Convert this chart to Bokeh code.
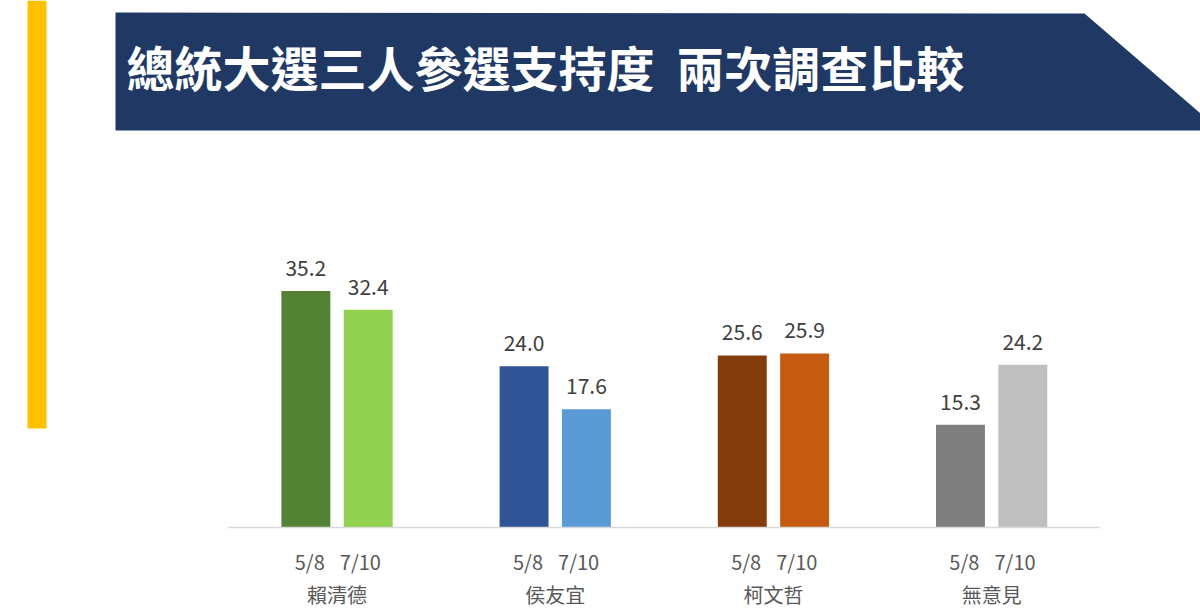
from bokeh.plotting import figure
from bokeh.models import (ColumnDataSource, PolyAnnotation, Label, Range1d,
                          LinearAxis, FixedTicker)
from bokeh.core.properties import value
from bokeh.embed import file_html
from bokeh.resources import INLINE

# ---- data ----
candidates = ["賴清德", "侯友宜", "柯文哲", "無意見"]
dates = ["5/8", "7/10"]
may_values = [35.2, 24.0, 25.6, 15.3]
jul_values = [32.4, 17.6, 25.9, 24.2]
may_colors = ["#548235", "#2F5597", "#843C0C", "#7F7F7F"]
jul_colors = ["#92D050", "#5B9BD5", "#C55A11", "#BFBFBF"]
title_text = "總統大選三人參選支持度\u00a0\u00a0兩次調查比較"

W, H = 1200, 611
FONT = "Noto Sans CJK TC"
BOTTOM = 84

GROUP_STEP = 7      # x units between candidate groups
DODGE = 1           # x units between a bar and its group centre
LABEL_OFFS = (-0.875, 0.75)   # date label positions relative to group centre

xs, vals, cols, tick_pos, tick_lab = [], [], [], [], {}
for i, (m, j, cm, cj) in enumerate(zip(may_values, jul_values, may_colors, jul_colors)):
    c = GROUP_STEP * i
    for d, v, col, off, loff in ((dates[0], m, cm, -DODGE, LABEL_OFFS[0]),
                                 (dates[1], j, cj, DODGE, LABEL_OFFS[1])):
        xs.append(c + off)
        vals.append(v)
        cols.append(col)
        tick_pos.append(c + loff)
        tick_lab[c + loff] = d
labels = [f"{v:.1f}" for v in vals]
src = ColumnDataSource(dict(x=xs, top=vals, color=cols, label=labels))
group_pos = [GROUP_STEP * i for i in range(len(candidates))]
group_lab = {g: n for g, n in zip(group_pos, candidates)}

p = figure(width=W, height=H, x_range=Range1d(-10.796, 27.70),
           y_range=Range1d(0, 78.42),
           output_backend="svg", toolbar_location=None,
           x_axis_location=None, y_axis_location=None,
           min_border=0, min_border_bottom=BOTTOM)
p.outline_line_color = None
p.background_fill_color = "white"
p.border_fill_color = "white"
p.xgrid.visible = False
p.ygrid.visible = False

p.vbar(x="x", top="top", width=1.57, color="color", line_color=None, source=src)
p.text(x="x", y="top", text="label", source=src, text_align="center",
       text_baseline="bottom", y_offset=-15, text_font=value(FONT),
       text_font_size="21px", text_color="#404040")


def style_axis(ax, standoff):
    ax.major_tick_line_color = None
    ax.minor_tick_line_color = None
    ax.major_tick_out = 0
    ax.major_tick_in = 0
    ax.minor_tick_out = 0
    ax.minor_tick_in = 0
    ax.major_label_text_font = FONT
    ax.major_label_text_font_size = "20px"
    ax.major_label_text_color = "#595959"
    ax.major_label_standoff = standoff


# axis 1: survey dates under each bar
ax1 = LinearAxis(ticker=FixedTicker(ticks=tick_pos), bounds=(-3.5, 24.5))
ax1.major_label_overrides = tick_lab
ax1.axis_line_color = "#D9D9D9"
ax1.axis_line_width = 1.5
style_axis(ax1, 19)
p.add_layout(ax1, "below")

# axis 2: candidate names under each group
ax2 = LinearAxis(ticker=FixedTicker(ticks=group_pos))
ax2.major_label_overrides = group_lab
ax2.axis_line_color = None
style_axis(ax2, 1)
p.add_layout(ax2, "below")

# ---- decorations (screen units: x from frame left, y up from frame bottom) ----
FRAME_BOTTOM = H - BOTTOM


def sy(y):
    return FRAME_BOTTOM - y


banner_x = [115, 1084, 1200, 1200, 115]
banner_y = [12, 13, 113, 130, 130]
p.add_layout(PolyAnnotation(xs=banner_x, ys=[sy(y) for y in banner_y],
                            xs_units="screen", ys_units="screen",
                            fill_color="#1F3864", fill_alpha=1.0,
                            line_color=None))
bar_x = [27, 46, 46, 27]
bar_y = [0, 0, 428, 428]
p.add_layout(PolyAnnotation(xs=bar_x, ys=[sy(y) for y in bar_y],
                            xs_units="screen", ys_units="screen",
                            fill_color="#FFC000", fill_alpha=1.0,
                            line_color=None))
p.add_layout(Label(x=126, y=sy(65), x_units="screen", y_units="screen",
                   text=title_text, text_font=FONT, text_font_size="48px",
                   text_font_style="bold", text_color="white",
                   text_baseline="middle", text_align="left"))

open("out.html", "w").write(file_html(p, INLINE))
